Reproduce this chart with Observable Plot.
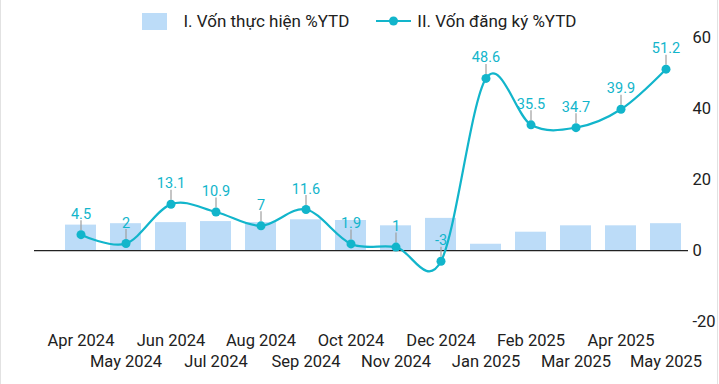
<!DOCTYPE html>
<html>
<head>
<meta charset="utf-8">
<script src="https://cdn.jsdelivr.net/npm/d3@7"></script>
<script src="https://cdn.jsdelivr.net/npm/@observablehq/plot@0.6"></script>
<style>
  html, body { margin: 0; padding: 0; background: #fff; }
  #wrap { position: relative; width: 719px; height: 384px; background: #fff; font-family: Roboto, "Noto Sans", sans-serif; overflow: hidden; }
  #legend { position: absolute; left: 0; top: 9px; width: 719px; height: 24px; display: flex; justify-content: center; align-items: center; font-size: 17px; color: #212121; }
  .item { display: flex; align-items: center; }
  .swatch { width: 25px; height: 17px; background: #bcdcf8; margin-right: 16px; }
  .edge { position: absolute; top: 0; width: 1px; height: 384px; background: #e2e2e2; }
  #chart { position: absolute; left: 0; top: 0; }
</style>
</head>
<body>
<div id="wrap">
  <div id="legend">
    <div class="item"><div class="swatch"></div><span>I. Vốn thực hiện %YTD</span></div>
    <div class="item" style="margin-left:27px"><svg width="35" height="12" style="margin-right:6px"><line x1="0" y1="6" x2="35" y2="6" stroke="#12b5cb" stroke-width="2"/><circle cx="17.5" cy="6" r="4.5" fill="#12b5cb"/></svg><span>II. Vốn đăng ký %YTD</span></div>
  </div>
  <div id="chart"></div>
  <div class="edge" style="left:0"></div>
  <div class="edge" style="left:717px"></div>
</div>
<script>
const months = ["Apr 2024","May 2024","Jun 2024","Jul 2024","Aug 2024","Sep 2024","Oct 2024","Nov 2024","Dec 2024","Jan 2025","Feb 2025","Mar 2025","Apr 2025","May 2025"];
const realized = [7.2, 7.6, 7.9, 8.2, 7.9, 8.7, 8.5, 7.0, 9.1, 1.8, 5.2, 7.0, 7.0, 7.6];
const registered = [4.5, 2, 13.1, 10.9, 7, 11.6, 1.9, 1, -3, 48.6, 35.5, 34.7, 39.9, 51.2];
const yTicks = [-20, 0, 20, 40, 60];

const cyan = "#12b5cb";
const data = months.map((m, i) => ({month: m, realized: realized[i], registered: registered[i], label: String(registered[i])}));
const row1 = months.filter((d, i) => i % 2 === 0);
const row2 = months.filter((d, i) => i % 2 === 1);

const chart = Plot.plot({
  width: 719,
  height: 384,
  marginTop: 37.5,
  marginBottom: 63,
  marginLeft: 34,
  marginRight: 31,
  style: {fontFamily: "Roboto, 'Noto Sans', sans-serif", background: "transparent", color: "#212121", overflow: "visible"},
  x: {type: "band", domain: months, paddingInner: 0.31, paddingOuter: 0.4, align: 0.82},
  y: {domain: [-20, 60]},
  marks: [
    Plot.barY(data, {x: "month", y: "realized", fill: "#bcdcf8"}),
    Plot.ruleY([0], {stroke: "#222", strokeWidth: 1.3}),
    Plot.line(data, {x: "month", y: "registered", stroke: cyan, strokeWidth: 2.2, curve: "cardinal"}),
    Plot.ruleX(data, {x: "month", y1: "registered", y2: "registered", insetTop: -14, insetBottom: 4, stroke: "#9e9e9e", strokeWidth: 1.2}),
    Plot.dot(data, {x: "month", y: "registered", r: 4.5, fill: cyan}),
    Plot.text(data, {x: "month", y: "registered", text: "label", dy: -16, lineAnchor: "bottom", fill: cyan, fontSize: 14.5}),
    Plot.axisY({ticks: yTicks, tickFormat: d => String(d), anchor: "right", tickSize: 0, tickPadding: 4, fontSize: 16.5, label: null}),
    Plot.axisX({ticks: row1, tickSize: 0, tickPadding: 13, fontSize: 16.5, label: null}),
    Plot.axisX({ticks: row2, tickSize: 0, tickPadding: 34, fontSize: 16.5, label: null})
  ]
});
document.getElementById("chart").appendChild(chart);
</script>
</body>
</html>
